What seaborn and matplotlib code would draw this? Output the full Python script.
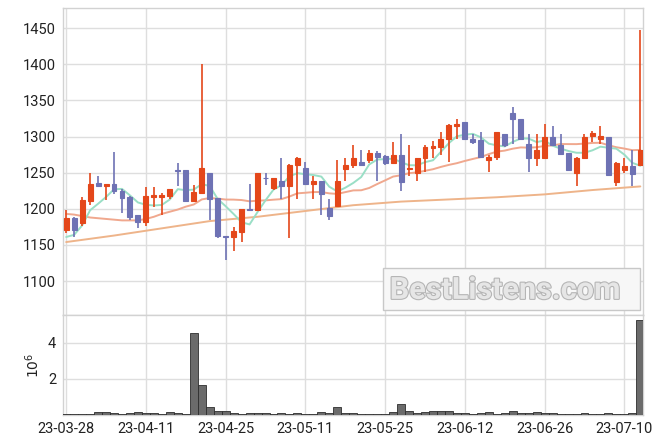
import matplotlib
matplotlib.use("Agg")
import matplotlib.pyplot as plt
import matplotlib.patheffects as pe
from matplotlib.patches import Rectangle
import numpy as np
import pandas as pd
import seaborn as sns

# ---- data ----
tick_labels = ['23-03-28', '23-04-11', '23-04-25', '23-05-11',
               '23-05-25', '23-06-12', '23-06-26', '23-07-10']
tick_pos = [0, 10, 20, 30, 40, 50, 60, 70]

opens = [1170, 1187, 1180, 1211, 1236, 1231, 1234, 1225, 1216, 1191,
         1182, 1216, 1216, 1218, 1254, 1254, 1211, 1222, 1249, 1215,
         1163, 1161, 1168, 1200, 1199, 1243, 1229, 1238, 1231, 1260,
         1257, 1234, 1238, 1201, 1204, 1255, 1260, 1265, 1267, 1277,
         1273, 1263, 1274, 1255, 1250, 1271, 1284, 1286, 1296, 1315,
         1320, 1297, 1295, 1267, 1272, 1304, 1333, 1324, 1290, 1270,
         1270, 1300, 1288, 1277, 1249, 1270, 1301, 1297, 1300, 1237,
         1254, 1259, 1261]
closes = [1187, 1171, 1212, 1234, 1231, 1234, 1224, 1215, 1189, 1182,
          1218, 1219, 1219, 1227, 1253, 1211, 1223, 1257, 1214, 1163,
          1161, 1169, 1200, 1199, 1249, 1242, 1243, 1231, 1260, 1271,
          1234, 1238, 1220, 1190, 1238, 1260, 1271, 1261, 1277, 1272,
          1263, 1274, 1237, 1256, 1271, 1285, 1287, 1296, 1316, 1318,
          1296, 1293, 1272, 1272, 1306, 1289, 1324, 1296, 1271, 1282,
          1300, 1288, 1276, 1254, 1270, 1300, 1305, 1301, 1247, 1263,
          1259, 1248, 1281]
highs = [1198, 1188, 1217, 1249, 1245, 1235, 1279, 1228, 1218, 1192,
         1230, 1230, 1222, 1228, 1264, 1254, 1233, 1400, 1249, 1215,
         1163, 1175, 1200, 1234, 1250, 1249, 1243, 1270, 1262, 1272,
         1265, 1246, 1238, 1214, 1267, 1271, 1288, 1281, 1281, 1280,
         1275, 1293, 1304, 1289, 1271, 1288, 1294, 1307, 1317, 1325,
         1320, 1304, 1307, 1275, 1306, 1304, 1341, 1324, 1304, 1304,
         1317, 1315, 1304, 1277, 1272, 1304, 1308, 1314, 1300, 1265,
         1270, 1281, 1447]
lows = [1167, 1161, 1176, 1205, 1230, 1212, 1220, 1194, 1185, 1174,
        1176, 1203, 1191, 1214, 1232, 1210, 1211, 1221, 1185, 1160,
        1129, 1141, 1154, 1199, 1198, 1233, 1226, 1214, 1160, 1213,
        1233, 1213, 1191, 1184, 1203, 1238, 1256, 1261, 1263, 1238,
        1260, 1263, 1225, 1245, 1238, 1251, 1270, 1274, 1265, 1296,
        1296, 1290, 1270, 1251, 1268, 1286, 1290, 1296, 1251, 1259,
        1269, 1288, 1275, 1253, 1231, 1270, 1293, 1290, 1246, 1232,
        1249, 1231, 1260]
volume_millions = [0.03, 0.03, 0.06, 0.06, 0.17, 0.17, 0.11, 0.06, 0.11, 0.17,
                   0.11, 0.11, 0.06, 0.17, 0.11, 0.06, 4.55, 1.69, 0.42, 0.25,
                   0.25, 0.11, 0.06, 0.11, 0.11, 0.11, 0.06, 0.11, 0.06, 0.11,
                   0.06, 0.06, 0.17, 0.11, 0.42, 0.11, 0.11, 0.06, 0.06, 0.06,
                   0.06, 0.17, 0.60, 0.25, 0.11, 0.17, 0.25, 0.25, 0.25, 0.11,
                   0.11, 0.06, 0.11, 0.17, 0.06, 0.11, 0.25, 0.11, 0.11, 0.17,
                   0.11, 0.11, 0.06, 0.06, 0.06, 0.11, 0.06, 0.06, 0.11, 0.06,
                   0.03, 0.11, 5.27]
# moving-average values before enough visible history
ma5_head = [1161, 1164, 1177, 1198]
ma20_head = [1193, 1192, 1190, 1188, 1187, 1186, 1185, 1184, 1184, 1184,
             1186, 1189, 1193, 1196, 1199, 1203, 1206, 1213, 1215]
ma60_idx = [0, 6, 12, 18, 24, 30, 36, 42, 48, 54, 60, 66, 72]
ma60_val = [1154, 1163, 1173, 1183, 1189, 1197, 1205, 1210, 1213, 1216,
            1220, 1226, 1231]

# ---- style ----
sns.set_theme(style="whitegrid")
plt.rcParams['font.family'] = ['Roboto', 'DejaVu Sans']

UP = '#e4471a'
DOWN = '#6e72b4'
GRID = '#dedede'
SPINE = '#d2d2d2'

n = len(closes)
idx = np.arange(n)
close_s = pd.Series(closes, dtype=float)
ma5 = close_s.rolling(5).mean().to_numpy()
ma5[:len(ma5_head)] = ma5_head
ma20 = close_s.rolling(20).mean().to_numpy()
ma20[:len(ma20_head)] = ma20_head

fig = plt.figure(figsize=(6.63, 4.44), dpi=100)
fig.patch.set_facecolor('white')
ax = fig.add_axes([0.095, 0.2905, 0.875, 0.6915])
axv = fig.add_axes([0.095, 0.0653, 0.875, 0.2252], sharex=ax)

for a in (ax, axv):
    a.set_facecolor('white')
    a.grid(True, color=GRID, linewidth=1.0)
    for s in a.spines.values():
        s.set_color(SPINE)
        s.set_linewidth(1.0)
    a.tick_params(length=0, colors='#222222', labelsize=10.5, pad=5)

# moving averages
sns.lineplot(x=ma60_idx, y=ma60_val, ax=ax, color='#eeb48a', linewidth=1.4, zorder=2)
sns.lineplot(x=idx, y=ma20, ax=ax, color='#f0a88e', linewidth=1.4, zorder=2)
sns.lineplot(x=idx, y=ma5, ax=ax, color='#9adfc6', linewidth=1.4, zorder=2)

# candles
o = np.array(opens, float); c = np.array(closes, float)
h = np.array(highs, float); l = np.array(lows, float)
up = c >= o
cols = np.where(up, UP, DOWN)
ax.vlines(idx, l, h, colors=cols, linewidth=1.2, zorder=3)
ax.bar(idx, np.abs(c - o), bottom=np.minimum(o, c), width=0.62,
       color=cols, edgecolor=cols, linewidth=0.8, zorder=4)

ax.set_ylim(1053, 1478)
ax.set_yticks([1100, 1150, 1200, 1250, 1300, 1350, 1400, 1450])
ax.set_xlim(-0.4, 72.35)
ax.tick_params(axis='x', labelbottom=False)

# watermark
ax.add_patch(Rectangle((0.552, 0.016), 0.443, 0.137, transform=ax.transAxes,
                       facecolor='#f7f7f7', edgecolor='#c8c8c8',
                       linewidth=1.0, zorder=5))
ax.text(0.762, 0.082, 'BestListens.com', transform=ax.transAxes,
        ha='center', va='center', fontsize=22, fontweight='bold',
        family=['Roboto', 'DejaVu Sans'], color='#e6e6e6',
        zorder=6,
        path_effects=[pe.withStroke(linewidth=1.6, foreground='#b5b5b5')])

# volume
sns.barplot(x=idx, y=volume_millions, ax=axv, native_scale=True,
            color='#6b6b6b', edgecolor='#2e2e2e', linewidth=0.6,
            width=1.0, saturation=1, zorder=3)
axv.set_ylim(0, 5.55)
axv.set_yticks([2, 4])
axv.set_yticklabels(['2', '4'])
axv.set_ylabel(r'$10^6$', fontsize=10, color='#222222', labelpad=4)
axv.set_xlim(-0.4, 72.35)
axv.set_xticks(tick_pos)
axv.set_xticklabels(tick_labels)
axv.set_xlabel('')

fig.savefig('out.png', dpi=100)
